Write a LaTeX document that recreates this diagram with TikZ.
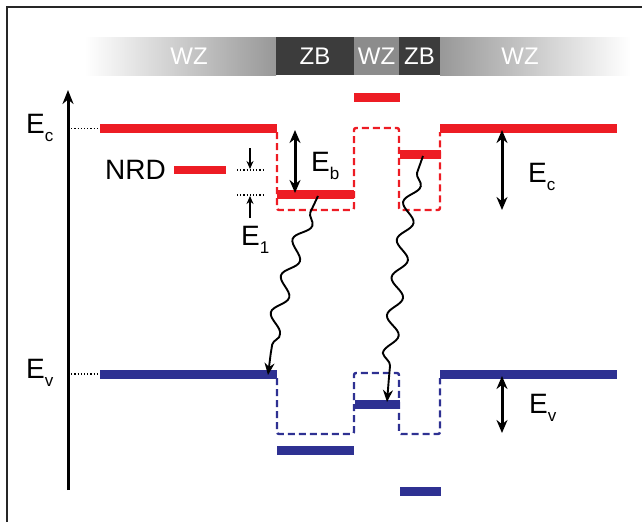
\documentclass[tikz,border=0pt]{standalone}
\usepackage{fontspec}
\setmainfont{Liberation Sans}
\usetikzlibrary{arrows.meta, decorations.pathmorphing}
\definecolor{bandred}{RGB}{237, 28, 36}
\definecolor{bandblue}{RGB}{46, 49, 146}
\definecolor{zbgrey}{RGB}{60, 60, 60}
\definecolor{wzgrey}{RGB}{140, 140, 140}
\definecolor{wzedge}{RGB}{152, 152, 152}
\newcommand{\bandlbl}[1]{E\raisebox{-8.5pt}{\fontsize{17}{17}\selectfont #1}}

\begin{document}
\begin{tikzpicture}[
    x=1pt, y=-1pt,
    phase/.style={
        rectangle, minimum height=38pt, inner sep=0pt, text=white,
        font=\fontsize{24}{24}\selectfont
    },
    phasetext/.style={
        inner sep=0pt, text=white, font=\fontsize{24}{24}\selectfont
    },
    cblevel/.style={
        rectangle, fill=bandred, minimum height=9pt, inner sep=0pt
    },
    vblevel/.style={
        rectangle, fill=bandblue, minimum height=9pt, inner sep=0pt
    },
    edge/.style={
        line width=2.4pt, dash pattern=on 7pt off 4pt, rounded corners=2pt
    },
    gap/.style={
        {Stealth[length=13pt, width=11pt]}-{Stealth[length=13pt, width=11pt]}, line width=3pt
    },
    small/.style={
        -{Stealth[length=8pt, width=7pt]}, line width=1.8pt
    },
    reflevel/.style={
        dotted, line width=1.2pt
    },
    wave/.style={
        -{Stealth[length=12pt, width=10pt]}, line width=1.9pt, decorate,
        decoration={snake, segment length=38pt, amplitude=7pt, pre length=18pt, post length=22pt}
    },
    lbl/.style={
        font=\fontsize{28}{28}\selectfont, inner sep=0pt, anchor=base west
    }
]
\useasboundingbox (0,0) rectangle (642,522);

% frame
\draw[line width=2pt, black!85] (7,522) -- (7,7) -- (642,7);

% crystal phase bar
\node[phase, left color=white, right color=wzedge, minimum width=191pt] (wzL) at (180.5,56) {};
\node[phasetext] (wzLtxt) at (189,56) {WZ};
\node[phase, fill=zbgrey, minimum width=78pt] (zb1) at (315,56) {ZB};
\node[phase, fill=wzgrey, minimum width=45pt] (wzM) at (376.5,56) {WZ};
\node[phase, fill=zbgrey, minimum width=41pt] (zb2) at (419.5,56) {ZB};
\node[phase, left color=wzedge, right color=white, minimum width=190pt] (wzR) at (535,56) {};
\node[phasetext] (wzRtxt) at (520,56) {WZ};

% energy axis
\coordinate (axbot) at (68,490);
\coordinate (axtop) at (68,90);
\draw[-{Stealth[length=14pt, width=11pt]}, line width=3pt] (axbot) -- (axtop);

% conduction band levels
\node[cblevel, minimum width=177pt] (cbL) at (188.5,128.5) {};
\node[cblevel, minimum width=52pt, minimum height=8pt] (nrd) at (200,170) {};
\node[cblevel, minimum width=77pt] (cbZB1) at (315.5,194) {};
\node[cblevel, minimum width=46pt] (cbTop) at (377,97.5) {};
\node[cblevel, minimum width=41pt] (cbZB2) at (420,154) {};
\node[cblevel, minimum width=177pt] (cbR) at (528.5,128.5) {};

% valence band levels
\node[vblevel, minimum width=177pt] (vbL) at (188.5,374) {};
\node[vblevel, minimum width=77pt] (vbZB1) at (315.5,450.5) {};
\node[vblevel, minimum width=45pt] (vbWZ) at (377,404.5) {};
\node[vblevel, minimum width=41pt] (vbZB2) at (420,491.5) {};
\node[vblevel, minimum width=177pt] (vbR) at (528.5,374) {};

% band edges
\draw[edge, draw=bandred] (277,132) -- (277,210) -- (354,210) -- (354,128) -- (399,128)
    -- (399,210) -- (440,210) -- (440,132);
\draw[edge, draw=bandblue] (277,378) -- (277,434) -- (354,434) -- (354,373) -- (399,373)
    -- (399,434) -- (440,434) -- (440,378);

% reference levels on the axis
\coordinate (ecref) at (68,128.5);
\coordinate (evref) at (68,374);
\draw[reflevel] (ecref) -- (cbL.west);
\draw[reflevel] (evref) -- (vbL.west);

% E1 marks
\coordinate (e1a) at (237,170);
\coordinate (e1b) at (263,170);
\coordinate (e1c) at (237,195);
\coordinate (e1d) at (263,195);
\coordinate (e1top) at (250,148);
\coordinate (e1bot) at (250,218);
\draw[reflevel] (e1a) -- (e1b);
\draw[reflevel] (e1c) -- (e1d);
\draw[small] (e1top) -- (250,169);
\draw[small] (e1bot) -- (250,196);

% gap arrows
\coordinate (ebtop) at (295,130);
\coordinate (ebbot) at (295,193);
\coordinate (ectop) at (502,130);
\coordinate (ecbot) at (502,210);
\coordinate (evtop) at (502,376);
\coordinate (evbot) at (502,433);
\draw[gap] (ebtop) -- (ebbot);
\draw[gap] (ectop) -- (ecbot);
\draw[gap] (evtop) -- (evbot);

% recombination
\coordinate (w1s) at (318,196);
\coordinate (w1e) at (268,375);
\coordinate (w2s) at (423,156);
\coordinate (w2e) at (387,402);
\draw[wave] (w1s) .. controls +(-15,25) and +(3,-45) .. (w1e);
\draw[wave] (w2s) .. controls +(-15,25) and +(3,-45) .. (w2e);

% labels
\node[lbl] (ecL) at (26,133) {\bandlbl{c}};
\node[lbl] (evL) at (26,378) {\bandlbl{v}};
\node[lbl] (nrdL) at (105,179) {NRD};
\node[lbl] (e1L) at (241,245) {\bandlbl{1}};
\node[lbl] (ebL) at (311,171) {\bandlbl{b}};
\node[lbl] (ecR) at (528,182) {\bandlbl{c}};
\node[lbl] (evR) at (529,413) {\bandlbl{v}};

\end{tikzpicture}
\end{document}
